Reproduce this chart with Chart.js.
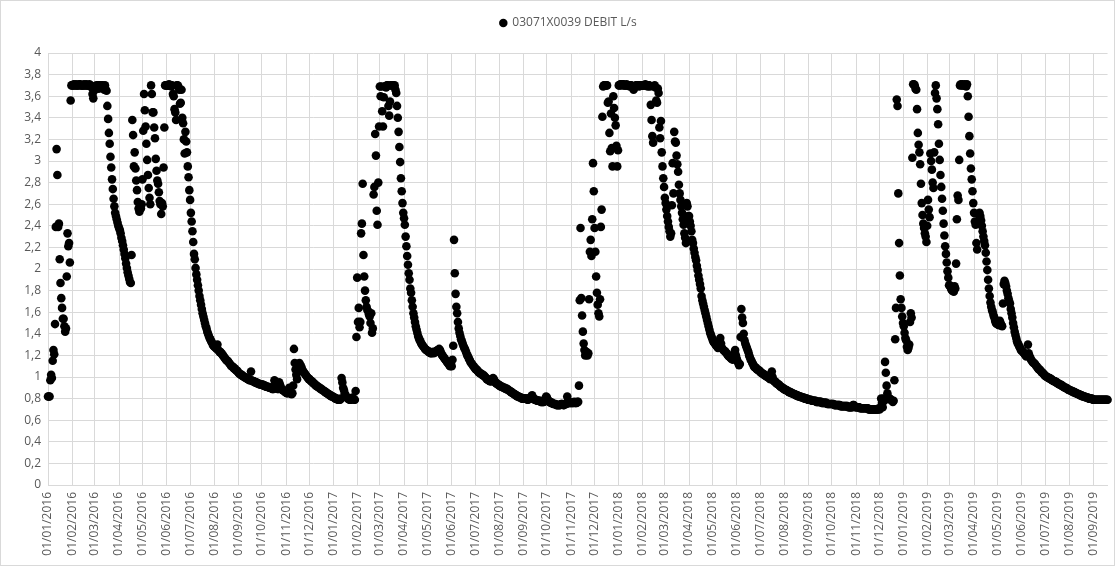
<!DOCTYPE html>
<html>
<head>
<meta charset="utf-8">
<title>03071X0039 DEBIT L/s</title>
<script src="https://cdn.jsdelivr.net/npm/chart.js@4/dist/chart.umd.min.js"></script>
<style>
  html, body { margin: 0; padding: 0; background: #fff; }
  canvas { display: block; }
</style>
</head>
<body>
<canvas id="chart" width="1115" height="566"></canvas>
<script>
/* ── Data: daily flow (L/s), one array per month ── */
const seriesLabel = '03071X0039 DEBIT L/s';

const jan2016 = [0.82,0.82,0.82,0.97,1.02,0.99,1.15,1.25,1.21,1.49,2.39,3.11,2.87,2.39,2.42,2.09,1.87,1.73,1.64,1.54,1.54,1.47,1.42,1.45,1.93,2.33,2.21,2.24,2.06,3.56,3.70];
const feb2016 = [3.70,3.70,3.71,3.70,3.70,3.71,3.70,3.70,3.70,3.71,3.71,3.70,3.70,3.70,3.70,3.71,3.70,3.70,3.71,3.70,3.70,3.70,3.71,3.70,3.69,3.68,3.62,3.58,3.65];
const mar2016 = [3.69,3.68,3.70,3.69,3.70,3.67,3.70,3.69,3.70,3.68,3.70,3.69,3.66,3.70,3.66,3.65,3.51,3.39,3.26,3.16,3.04,2.94,2.83,2.74,2.65,2.58,2.52,2.49,2.46,2.43,2.40];
const apr2016 = [2.38,2.36,2.33,2.29,2.26,2.22,2.18,2.14,2.10,2.05,2.01,1.97,1.94,1.91,1.88,1.87,2.13,3.38,3.24,2.95,3.08,2.93,2.82,2.73,2.62,2.56,2.53,2.58,2.56,2.60];
const may2016 = [2.83,3.28,3.62,3.47,3.32,3.16,3.01,2.87,2.75,2.66,2.60,3.70,3.62,3.45,3.45,3.31,3.21,3.02,2.91,2.82,2.79,2.71,2.63,2.60,2.51,2.61,2.58,2.94,3.31,3.70,3.70];
const jun2016 = [3.70,3.70,3.70,3.71,3.70,3.70,3.69,3.70,3.62,3.60,3.48,3.45,3.38,3.70,3.70,3.69,3.66,3.53,3.54,3.66,3.40,3.35,3.20,3.07,3.27,3.18,3.08,2.95,2.85,2.73];
const jul2016 = [2.64,2.52,2.44,2.35,2.25,2.14,2.09,2.01,1.95,1.90,1.85,1.80,1.75,1.71,1.67,1.63,1.59,1.56,1.53,1.50,1.47,1.45,1.42,1.40,1.38,1.36,1.35,1.33,1.32,1.30,1.29];
const aug2016 = [1.28,1.28,1.27,1.26,1.30,1.25,1.24,1.23,1.23,1.22,1.21,1.20,1.19,1.18,1.17,1.16,1.15,1.15,1.14,1.13,1.12,1.11,1.10,1.10,1.09,1.08,1.08,1.07,1.06,1.06,1.05];
const sep2016 = [1.04,1.03,1.03,1.02,1.02,1.01,1.01,1.00,1.00,0.99,0.99,0.99,0.98,0.98,0.97,0.97,1.05,0.97,0.96,0.96,0.96,0.95,0.95,0.95,0.94,0.94,0.94,0.93,0.93,0.93];
const oct2016 = [0.93,0.93,0.92,0.92,0.92,0.91,0.91,0.91,0.91,0.90,0.90,0.90,0.90,0.89,0.89,0.89,0.97,0.95,0.92,0.90,0.89,0.89,0.95,0.93,0.91,0.89,0.88,0.88,0.87,0.87,0.86];
const nov2016 = [0.86,0.85,0.85,0.88,0.90,0.86,0.85,0.84,0.85,0.92,1.26,1.13,1.07,1.02,0.98,1.05,1.10,1.13,1.11,1.10,1.08,1.06,1.05,1.04,1.03,1.02,1.01,1.00,0.99,0.98];
const dec2016 = [0.98,0.97,0.96,0.96,0.95,0.94,0.94,0.93,0.92,0.92,0.91,0.91,0.90,0.90,0.89,0.89,0.88,0.88,0.87,0.87,0.86,0.86,0.85,0.85,0.84,0.84,0.83,0.83,0.82,0.82,0.82];

const jan2017 = [0.81,0.81,0.80,0.80,0.80,0.79,0.79,0.79,0.79,0.80,0.99,0.95,0.90,0.88,0.85,0.83,0.82,0.81,0.80,0.80,0.79,0.79,0.79,0.80,0.81,0.80,0.79,0.79,0.87,1.37,1.92];
const feb2017 = [1.51,1.64,1.46,1.51,2.33,2.42,2.79,2.13,1.93,1.80,1.71,1.65,1.62,1.61,1.58,1.56,1.50,1.59,1.41,1.45,2.69,2.76,3.25,3.05,2.54,2.41,2.80,3.32];
const mar2017 = [3.69,3.60,3.69,3.46,3.32,3.59,3.69,3.69,3.68,3.70,3.70,3.51,3.42,3.55,3.70,3.70,3.70,3.70,3.69,3.70,3.66,3.63,3.51,3.40,3.27,3.13,2.99,2.84,2.72,2.61,2.52];
const apr2017 = [2.47,2.41,2.30,2.21,2.12,2.04,1.96,1.90,1.82,1.78,1.71,1.65,1.59,1.55,1.51,1.47,1.44,1.41,1.38,1.36,1.34,1.33,1.31,1.30,1.29,1.28,1.27,1.26,1.25,1.25];
const may2017 = [1.24,1.24,1.23,1.23,1.22,1.22,1.23,1.23,1.22,1.23,1.23,1.24,1.24,1.25,1.25,1.26,1.25,1.23,1.21,1.20,1.19,1.18,1.17,1.16,1.15,1.14,1.13,1.12,1.11,1.10,1.12];
const jun2017 = [1.10,1.16,1.29,2.27,1.96,1.77,1.65,1.59,1.51,1.45,1.41,1.38,1.35,1.33,1.31,1.29,1.27,1.26,1.24,1.22,1.20,1.19,1.17,1.16,1.14,1.13,1.12,1.11,1.10,1.09];
const jul2017 = [1.08,1.07,1.07,1.06,1.05,1.04,1.04,1.03,1.03,1.02,1.02,1.01,1.01,1.00,0.99,0.98,0.98,0.97,0.97,0.96,0.96,0.96,0.97,0.99,0.98,0.96,0.95,0.94,0.94,0.93,0.93];
const aug2017 = [0.92,0.92,0.91,0.91,0.91,0.90,0.90,0.90,0.89,0.89,0.89,0.88,0.88,0.87,0.87,0.86,0.86,0.85,0.85,0.84,0.84,0.83,0.83,0.82,0.82,0.82,0.81,0.81,0.81,0.80,0.80];
const sep2017 = [0.80,0.80,0.80,0.80,0.80,0.79,0.79,0.80,0.80,0.81,0.82,0.83,0.81,0.80,0.79,0.79,0.79,0.78,0.78,0.78,0.78,0.78,0.77,0.77,0.77,0.77,0.77,0.78,0.80,0.82];
const oct2017 = [0.81,0.79,0.78,0.77,0.77,0.76,0.76,0.76,0.75,0.75,0.75,0.75,0.74,0.74,0.74,0.74,0.74,0.74,0.75,0.75,0.75,0.74,0.74,0.75,0.75,0.75,0.82,0.78,0.76,0.76,0.76];
const nov2017 = [0.76,0.76,0.76,0.76,0.77,0.76,0.76,0.76,0.77,0.77,0.92,1.71,2.38,1.73,1.57,1.42,1.31,1.25,1.20,1.22,1.23,1.20,1.22,1.72,2.16,2.27,2.12,2.46,2.98,2.72];
const dec2017 = [2.38,2.16,1.93,1.78,1.67,1.59,1.56,1.72,2.39,2.55,3.41,3.69,3.70,3.70,3.70,3.70,3.70,3.54,3.55,3.26,3.09,3.44,3.12,2.95,3.60,3.49,3.40,3.33,3.14,2.95,3.10];

const jan2018 = [3.70,3.70,3.71,3.71,3.70,3.71,3.71,3.70,3.70,3.70,3.71,3.70,3.70,3.70,3.69,3.70,3.70,3.69,3.68,3.66,3.68,3.69,3.70,3.70,3.70,3.70,3.69,3.70,3.70,3.70,3.70];
const feb2018 = [3.70,3.70,3.70,3.71,3.70,3.70,3.69,3.70,3.70,3.69,3.52,3.38,3.23,3.17,3.69,3.70,3.68,3.56,3.54,3.67,3.63,3.31,3.21,3.37,3.08,2.95,2.84,2.76];
const mar2018 = [2.66,2.61,2.55,2.49,2.44,2.39,2.35,2.30,2.33,2.59,2.98,2.70,3.27,3.18,3.17,3.05,2.97,2.90,2.78,2.70,2.64,2.58,2.52,2.46,2.41,2.33,2.29,2.24,2.61,2.58,2.49];
const apr2018 = [2.49,2.44,2.40,2.35,2.27,2.24,2.19,2.15,2.11,2.08,2.03,1.99,1.94,1.90,1.86,1.82,1.75,1.71,1.68,1.65,1.62,1.59,1.56,1.53,1.50,1.47,1.44,1.41,1.39,1.37];
const may2018 = [1.35,1.33,1.32,1.31,1.30,1.29,1.28,1.27,1.30,1.33,1.36,1.31,1.27,1.26,1.25,1.24,1.24,1.23,1.22,1.21,1.20,1.19,1.19,1.18,1.17,1.17,1.16,1.18,1.22,1.25,1.20];
const jun2018 = [1.17,1.15,1.13,1.11,1.12,1.37,1.63,1.55,1.50,1.40,1.34,1.31,1.29,1.27,1.25,1.23,1.20,1.18,1.16,1.15,1.13,1.12,1.10,1.09,1.09,1.08,1.07,1.07,1.06,1.06];
const jul2018 = [1.05,1.04,1.04,1.03,1.03,1.02,1.02,1.01,1.01,1.00,1.00,0.99,0.99,0.98,1.02,1.05,1.00,0.97,0.96,0.96,0.95,0.94,0.94,0.93,0.93,0.92,0.91,0.91,0.90,0.90,0.89];
const aug2018 = [0.89,0.88,0.88,0.88,0.87,0.87,0.86,0.86,0.86,0.85,0.85,0.85,0.84,0.84,0.84,0.83,0.83,0.83,0.82,0.82,0.82,0.82,0.81,0.81,0.81,0.81,0.80,0.80,0.80,0.80,0.79];
const sep2018 = [0.79,0.79,0.79,0.79,0.78,0.78,0.78,0.78,0.78,0.78,0.77,0.77,0.77,0.77,0.77,0.77,0.77,0.76,0.76,0.76,0.76,0.76,0.76,0.76,0.75,0.75,0.75,0.75,0.75,0.75];
const oct2018 = [0.75,0.75,0.75,0.74,0.74,0.74,0.74,0.74,0.74,0.74,0.74,0.73,0.73,0.73,0.73,0.73,0.73,0.73,0.73,0.73,0.73,0.72,0.72,0.72,0.72,0.72,0.72,0.74,0.74,0.73,0.72];
const nov2018 = [0.72,0.72,0.72,0.72,0.72,0.71,0.71,0.71,0.71,0.71,0.71,0.71,0.71,0.71,0.71,0.71,0.70,0.70,0.70,0.70,0.70,0.70,0.70,0.70,0.70,0.70,0.70,0.70,0.70,0.71];
const dec2018 = [0.70,0.71,0.80,0.76,0.72,0.80,0.78,1.14,1.04,0.92,0.85,0.81,0.80,0.80,0.79,0.79,0.78,0.77,0.78,0.97,1.35,1.64,3.57,3.51,2.70,2.24,1.94,1.72,1.64,1.56,1.50];

const jan2019 = [1.47,1.41,1.36,1.34,1.28,1.25,1.27,1.30,1.51,1.59,1.55,3.03,3.71,3.71,3.70,3.67,3.66,3.48,3.26,3.15,3.08,2.97,2.79,2.61,2.50,2.42,2.38,2.33,2.30,2.25,2.40];
const feb2019 = [2.64,2.55,2.48,3.07,3.00,2.92,2.80,2.75,3.08,3.63,3.70,3.58,3.48,3.34,3.16,3.01,2.87,2.76,2.65,2.54,2.42,2.31,2.21,2.14,2.06,1.98,1.92,1.85];
const mar2019 = [1.85,1.83,1.81,1.80,1.82,1.79,1.84,1.82,2.05,2.46,2.68,2.64,3.01,3.70,3.71,3.70,3.71,3.70,3.70,3.71,3.70,3.69,3.71,3.60,3.41,3.23,3.07,2.93,2.83,2.72,2.61];
const apr2019 = [2.52,2.44,2.41,2.24,2.18,2.44,2.50,2.52,2.49,2.45,2.40,2.35,2.30,2.26,2.22,2.15,2.07,1.99,1.90,1.82,1.75,1.69,1.65,1.62,1.60,1.57,1.55,1.52,1.50,1.49];
const may2019 = [1.50,1.49,1.48,1.52,1.50,1.48,1.47,1.68,1.86,1.89,1.87,1.84,1.80,1.77,1.73,1.70,1.68,1.63,1.59,1.55,1.50,1.46,1.42,1.39,1.36,1.33,1.31,1.30,1.28,1.27,1.25];
const jun2019 = [1.24,1.24,1.23,1.22,1.21,1.20,1.19,1.20,1.30,1.22,1.19,1.18,1.16,1.15,1.14,1.13,1.13,1.12,1.11,1.10,1.09,1.08,1.07,1.07,1.06,1.05,1.04,1.04,1.03,1.02];
const jul2019 = [1.01,1.01,1.00,1.00,0.99,0.99,0.99,0.98,0.98,0.97,0.97,0.96,0.96,0.96,0.95,0.95,0.94,0.94,0.93,0.93,0.93,0.92,0.92,0.91,0.91,0.90,0.90,0.90,0.89,0.89,0.88];
const aug2019 = [0.88,0.88,0.87,0.87,0.87,0.86,0.86,0.86,0.85,0.85,0.85,0.84,0.84,0.84,0.83,0.83,0.83,0.82,0.82,0.82,0.82,0.81,0.81,0.81,0.81,0.80,0.80,0.80,0.80,0.80,0.79];
const sep2019 = [0.79,0.79,0.79,0.79,0.79,0.79,0.79,0.79,0.79,0.79,0.79,0.79,0.79,0.79,0.79,0.79,0.79,0.79,0.79];

/* [year, month index, daily values] */
const months = [
  [2016, 0, jan2016], [2016, 1, feb2016], [2016, 2, mar2016], [2016, 3, apr2016],
  [2016, 4, may2016], [2016, 5, jun2016], [2016, 6, jul2016], [2016, 7, aug2016],
  [2016, 8, sep2016], [2016, 9, oct2016], [2016, 10, nov2016], [2016, 11, dec2016],
  [2017, 0, jan2017], [2017, 1, feb2017], [2017, 2, mar2017], [2017, 3, apr2017],
  [2017, 4, may2017], [2017, 5, jun2017], [2017, 6, jul2017], [2017, 7, aug2017],
  [2017, 8, sep2017], [2017, 9, oct2017], [2017, 10, nov2017], [2017, 11, dec2017],
  [2018, 0, jan2018], [2018, 1, feb2018], [2018, 2, mar2018], [2018, 3, apr2018],
  [2018, 4, may2018], [2018, 5, jun2018], [2018, 6, jul2018], [2018, 7, aug2018],
  [2018, 8, sep2018], [2018, 9, oct2018], [2018, 10, nov2018], [2018, 11, dec2018],
  [2019, 0, jan2019], [2019, 1, feb2019], [2019, 2, mar2019], [2019, 3, apr2019],
  [2019, 4, may2019], [2019, 5, jun2019], [2019, 6, jul2019], [2019, 7, aug2019],
  [2019, 8, sep2019]
];

/* y axis ticks */
const yMin = 0, yMax = 4, yStep = 0.2;

/* ── Helpers ── */
const DAY = 86400000;
const origin = Date.UTC(2016, 0, 1);
const dayIndex = (y, m, d) => (Date.UTC(y, m, d) - origin) / DAY;
const pad2 = n => String(n).padStart(2, '0');

const points = months.flatMap(([y, m, vals]) =>
  vals.map((v, i) => ({ x: dayIndex(y, m, i + 1), y: v })));
const lastDay = points[points.length - 1].x;

// one tick at the first day of each month
const monthTicks = months.map(([y, m]) => dayIndex(y, m, 1));
const monthLabels = months.map(([y, m]) => `01/${pad2(m + 1)}/${y}`);

const fmtY = v => String(Math.round(v * 10) / 10).replace('.', ',');

/* ── Plugins ── */
const frame = {
  id: 'frame',
  beforeDraw(chart) {
    const { ctx, width, height } = chart;
    ctx.save();
    ctx.fillStyle = '#fff';
    ctx.fillRect(0, 0, width, height);
    ctx.strokeStyle = '#d9d9d9';
    ctx.lineWidth = 1;
    ctx.strokeRect(0.5, 0.5, width - 1, height - 1);
    ctx.restore();
  }
};

// extra room under the legend, and centre it a bit to the right like the original
const legendGap = {
  id: 'legendGap',
  beforeInit(chart) {
    const fit = chart.legend.fit;
    chart.legend.fit = function () { fit.call(this); this.height += 14; };
  },
  afterLayout(chart) {
    chart.legend.left += 14;
    chart.legend.right += 14;
  }
};

const textColor = '#595959';
const gridColor = '#d9d9d9';
Chart.defaults.font.family = "'Open Sans', sans-serif";

new Chart(document.getElementById('chart'), {
  type: 'scatter',
  data: {
    datasets: [{
      label: seriesLabel,
      data: points,
      backgroundColor: '#000',
      borderColor: '#000',
      pointRadius: 4.3,
      pointHoverRadius: 4.3,
      pointBorderWidth: 0,
      clip: false
    }]
  },
  options: {
    responsive: false,
    animation: false,
    events: [],
    devicePixelRatio: 1,
    layout: { padding: { top: 7, right: 6, bottom: 0, left: 0 } },
    plugins: {
      tooltip: { enabled: false },
      legend: {
        position: 'top',
        labels: {
          usePointStyle: true,
          pointStyle: 'circle',
          boxWidth: 6,
          boxHeight: 6,
          padding: 10,
          color: textColor,
          font: { size: 12 }
        }
      }
    },
    scales: {
      x: {
        type: 'linear',
        min: 0,
        max: lastDay,
        afterBuildTicks: s => { s.ticks = monthTicks.map(v => ({ value: v })); },
        afterFit: s => { s.height = 81; },
        ticks: {
          autoSkip: false,
          maxRotation: 90,
          minRotation: 90,
          padding: 7,
          color: textColor,
          font: { size: 12 },
          callback: (v, i) => monthLabels[i]
        },
        grid: { color: gridColor, drawTicks: false },
        border: { color: gridColor }
      },
      y: {
        min: yMin,
        max: yMax,
        afterFit: s => { s.width = 48; },
        ticks: {
          stepSize: yStep,
          padding: 7,
          color: textColor,
          font: { size: 12 },
          callback: v => fmtY(v)
        },
        grid: { color: gridColor, drawTicks: false },
        border: { color: gridColor }
      }
    }
  },
  plugins: [frame, legendGap]
});
</script>
</body>
</html>
